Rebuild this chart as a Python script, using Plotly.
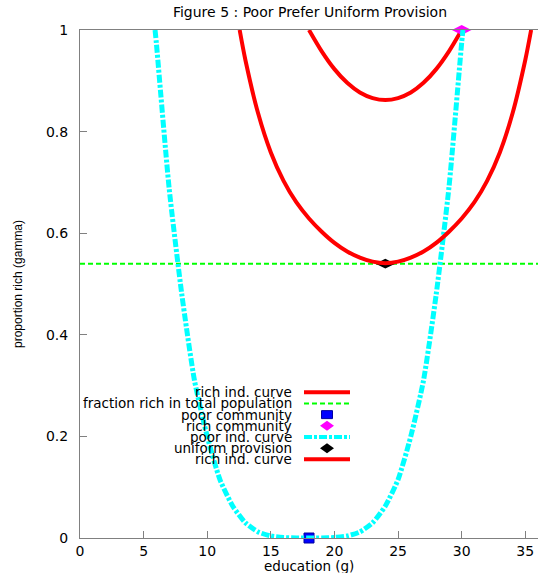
import plotly.graph_objects as go

# ---------------- data ----------------
# poor individual's indifference curve (cyan), read left -> right
poor_curve_x = [5.9, 6.0, 7.0, 8.0, 9.0, 10.0, 11.0, 12.0, 13.0, 14.0, 15.0, 16.0, 17.0, 18.0,
                19.0, 20.0, 21.0, 22.0, 23.0, 24.0, 25.0, 26.0, 27.0, 28.0, 29.0, 30.0, 30.1]
poor_curve_y = [1.0, 0.975, 0.69, 0.48, 0.31, 0.20, 0.115, 0.063, 0.030, 0.012, 0.004, 0.001, 0.0, 0.0,
                0.0, 0.001, 0.004, 0.012, 0.030, 0.063, 0.115, 0.20, 0.31, 0.48, 0.69, 0.975, 1.0]

# rich individual's indifference curve through the uniform-provision point (lower red)
rich_low_x = [12.55, 13.0, 14.0, 15.0, 16.0, 17.0, 18.0, 19.0, 20.0, 21.0, 22.0, 23.0, 24.0,
              25.0, 26.0, 27.0, 28.0, 29.0, 30.0, 31.0, 32.0, 33.0, 34.0, 35.0, 35.46]
rich_low_y = [1.0, 0.941, 0.836, 0.759, 0.703, 0.661, 0.629, 0.603, 0.581, 0.564, 0.552, 0.544, 0.541,
              0.544, 0.552, 0.564, 0.581, 0.603, 0.629, 0.661, 0.703, 0.759, 0.836, 0.941, 1.0]

# rich individual's indifference curve through the rich community point (upper red)
rich_up_x = [18.0, 19.0, 20.0, 21.0, 22.0, 23.0, 24.0, 25.0, 26.0, 27.0, 28.0, 29.0, 30.0]
rich_up_y = [1.0, 0.958, 0.923, 0.896, 0.877, 0.866, 0.862, 0.866, 0.877, 0.896, 0.923, 0.958, 1.0]

fraction_rich = 0.54
x_range = [0, 36]

poor_community = (18.0, 0.0)
rich_community = (30.0, 1.0)
uniform_provision = (24.0, 0.54)

x_ticks = [0, 5, 10, 15, 20, 25, 30, 35]
y_ticks = [0, 0.2, 0.4, 0.6, 0.8, 1]

legend_labels = ["rich ind. curve", "fraction rich in total population", "poor community",
                 "rich community", "poor ind. curve", "uniform provision", "rich ind. curve"]

# ---------------- styles ----------------
RED = "#ff0000"
GREEN = "#00ff00"
CYAN = "#00ffff"
BLUE = "#0000ff"
MAGENTA = "#ff00ff"
BLACK = "#000000"
AXIS_GRAY = "#808080"
CYAN_DASH = "8px,2px,3px,2px"
GREEN_DASH = "5px,3px"
FONT = "DejaVu Sans"

fig = go.Figure()

fig.add_trace(go.Scatter(x=rich_up_x, y=rich_up_y, mode="lines", name=legend_labels[0],
                         line=dict(color=RED, width=4, shape="spline", smoothing=0.8)))
fig.add_trace(go.Scatter(x=x_range, y=[fraction_rich, fraction_rich], mode="lines", name=legend_labels[1],
                         line=dict(color=GREEN, width=2, dash=GREEN_DASH)))
fig.add_trace(go.Scatter(x=[poor_community[0]], y=[poor_community[1]], mode="markers", name=legend_labels[2],
                         cliponaxis=False,
                         marker=dict(symbol="square", size=10, color=BLUE, line=dict(color="#0000a0", width=1))))
fig.add_trace(go.Scatter(x=[rich_community[0]], y=[rich_community[1]], mode="markers", name=legend_labels[3],
                         cliponaxis=False,
                         marker=dict(symbol="diamond-wide", size=14, color=MAGENTA, line=dict(width=0))))
fig.add_trace(go.Scatter(x=poor_curve_x, y=poor_curve_y, mode="lines", name=legend_labels[4],
                         line=dict(color=CYAN, width=5, dash=CYAN_DASH, shape="spline", smoothing=0.6)))
fig.add_trace(go.Scatter(x=[uniform_provision[0]], y=[uniform_provision[1]], mode="markers", name=legend_labels[5],
                         cliponaxis=False,
                         marker=dict(symbol="diamond-wide", size=14, color=BLACK, line=dict(width=0))))
fig.add_trace(go.Scatter(x=rich_low_x, y=rich_low_y, mode="lines", name=legend_labels[6],
                         line=dict(color=RED, width=4, shape="spline", smoothing=0.8)))

# ---------------- layout ----------------
W, H = 538, 573
L, R, T, B = 80, 0, 30, 35
pw, ph = W - L - R, H - T - B


def px_x(px):
    return (px - L) / pw


def px_y(py):
    return (H - B - py) / ph


annotations = []
shapes = []

# manual gnuplot-style legend: text right-aligned, sample on the right
legend_styles = [
    ("line", RED, None, 4),
    ("line", GREEN, GREEN_DASH, 2),
    ("rect", BLUE, None, 0),
    ("diamond", MAGENTA, None, 0),
    ("line", CYAN, CYAN_DASH, 4),
    ("diamond", BLACK, None, 0),
    ("line", RED, None, 4),
]
row0, step = 392.3, 11.17
text_right, samp_l, samp_r = 294, 304, 350
samp_c = (samp_l + samp_r) / 2
for i, (lab, st) in enumerate(zip(legend_labels, legend_styles)):
    py = row0 + i * step
    annotations.append(dict(x=px_x(text_right), y=px_y(py), xref="paper", yref="paper",
                            text=lab, showarrow=False, xanchor="right", yanchor="middle",
                            font=dict(family=FONT, size=13.5, color=BLACK)))
    kind, color, extra, w = st
    if kind == "line":
        shapes.append(dict(type="line", xref="paper", yref="paper",
                           x0=px_x(samp_l), x1=px_x(samp_r), y0=px_y(py), y1=px_y(py),
                           line=dict(color=color, width=w, dash=extra if extra else "solid")))
    elif kind == "rect":
        shapes.append(dict(type="rect", xref="paper", yref="paper", xsizemode="pixel", ysizemode="pixel",
                           xanchor=px_x(samp_c), yanchor=px_y(py), x0=-5.5, x1=5.5, y0=-4, y1=4,
                           fillcolor=color, line=dict(color="#0000a0", width=1)))
    else:
        shapes.append(dict(type="path", xref="paper", yref="paper", xsizemode="pixel", ysizemode="pixel",
                           xanchor=px_x(samp_c), yanchor=px_y(py),
                           path="M -7 0 L 0 5 L 7 0 L 0 -5 Z",
                           fillcolor=color, line=dict(color=color, width=0)))

# axis titles
annotations.append(dict(x=px_x(309), y=px_y(566), xref="paper", yref="paper", text="education (g)",
                        showarrow=False, xanchor="center", yanchor="middle",
                        font=dict(family=FONT, size=13.5, color=BLACK)))
annotations.append(dict(x=px_x(18), y=0.5, xref="paper", yref="paper", text="proportion rich (gamma)",
                        showarrow=False, xanchor="center", yanchor="middle", textangle=-90,
                        font=dict(family="Liberation Sans", size=12, color=BLACK)))

fig.update_layout(
    width=W, height=H,
    margin=dict(l=L, r=R, t=T, b=B, pad=0),
    paper_bgcolor="white", plot_bgcolor="white",
    showlegend=False,
    font=dict(family=FONT, color=BLACK),
    title=dict(text="Figure 5 : Poor Prefer Uniform Provision", x=px_x(310), xref="paper",
               xanchor="center", y=1 - 12 / H, yanchor="middle", yref="container",
               font=dict(family=FONT, size=14, color=BLACK)),
    annotations=annotations,
    shapes=shapes,
)
fig.update_xaxes(range=x_range, tickvals=x_ticks, ticks="inside", ticklen=7, tickcolor=AXIS_GRAY,
                 showline=True, linecolor=AXIS_GRAY, linewidth=1, mirror=True, showgrid=False,
                 zeroline=False, tickfont=dict(family=FONT, size=14, color=BLACK))
fig.update_yaxes(range=[0, 1], tickvals=y_ticks, ticks="inside", ticklen=7, tickcolor=AXIS_GRAY,
                 showline=True, linecolor=AXIS_GRAY, linewidth=1, mirror=True, showgrid=False,
                 zeroline=False, ticklabelstandoff=8, tickfont=dict(family=FONT, size=14, color=BLACK))

fig.write_html("out.html", config={"displayModeBar": False},
               post_script="document.body.style.margin='0';document.body.style.padding='0';")
